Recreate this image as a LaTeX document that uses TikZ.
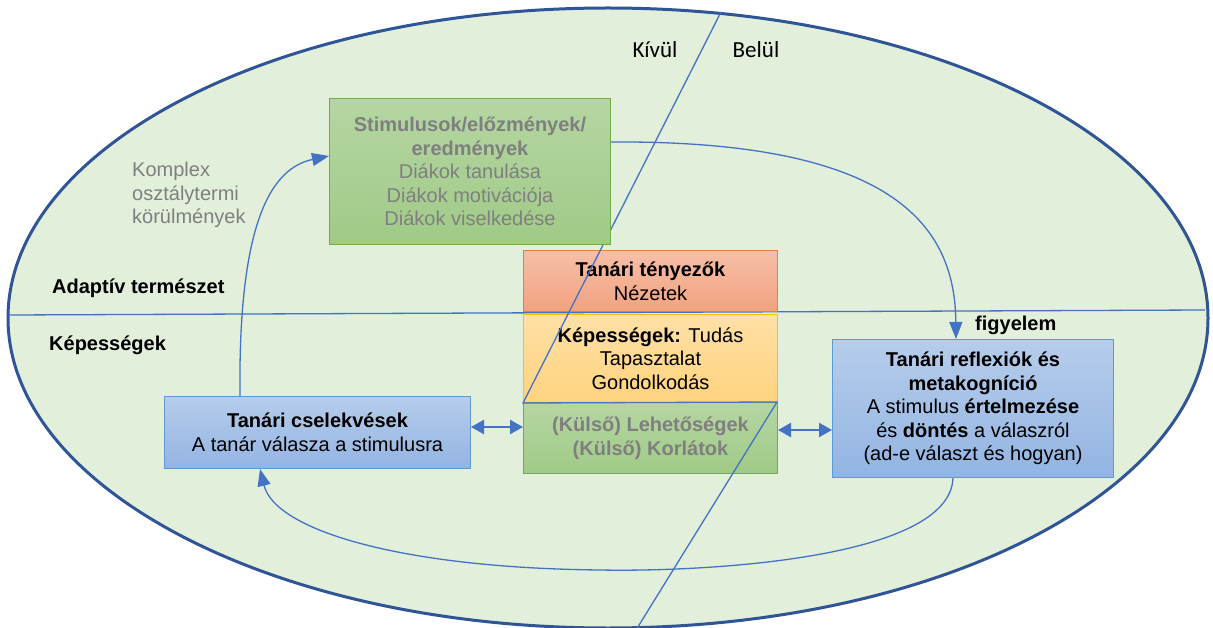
\documentclass[tikz,border=0pt]{standalone}
\usepackage{fontspec}
\setmainfont{Liberation Sans}
\newfontfamily\calibri{Carlito}
\usetikzlibrary{arrows.meta}

\definecolor{ellfill}{HTML}{E2EFDA}
\definecolor{ellline}{HTML}{2F5597}
\definecolor{accent}{HTML}{4472C4}
\definecolor{greytext}{HTML}{7F7F7F}
\definecolor{gtop}{HTML}{B5D6A3}
\definecolor{gbot}{HTML}{A0CA86}
\definecolor{gline}{HTML}{70AD47}
\definecolor{rtop}{HTML}{F6BFA8}
\definecolor{rbot}{HTML}{F2A27F}
\definecolor{rline}{HTML}{ED7D31}
\definecolor{ytop}{HTML}{FFE0A6}
\definecolor{ybot}{HTML}{FFD37E}
\definecolor{yline}{HTML}{FFC000}
\definecolor{btop}{HTML}{B6CDEB}
\definecolor{bbot}{HTML}{93B4E2}
\definecolor{bline}{HTML}{5B9BD5}

\tikzset{
  boxbase/.style={draw, line width=1pt, anchor=north west, align=center, inner sep=0pt},
  greenbox/.style={boxbase, draw=gline, top color=gtop, bottom color=gbot},
  redbox/.style={boxbase, draw=rline, top color=rtop, bottom color=rbot},
  yellowbox/.style={boxbase, draw=yline, top color=ytop, bottom color=ybot},
  bluebox/.style={boxbase, draw=bline, top color=btop, bottom color=bbot},
  divider/.style={draw=accent, line width=1.3pt},
  flow/.style={draw=accent, line width=1.3pt, -{Triangle[length=17pt, width=13pt]}},
  twoway/.style={draw=accent, line width=2.4pt, {Triangle[length=13pt, width=14pt]}-{Triangle[length=13pt, width=14pt]}},
  label/.style={inner sep=0pt, align=left}
}

\begin{document}
\begin{tikzpicture}[x=1pt, y=-1pt, every node/.style={font=\fontsize{20}{23.6}\selectfont}]
\useasboundingbox (0,0) rectangle (1213,628);

% outer field
\draw[fill=ellfill, draw=ellline, line width=3pt] (608,318) ellipse [x radius=600pt, y radius=310pt];

% horizontal split
\draw[divider] (10,315) -- (1205,310);

% central boxes
\node[redbox, minimum width=254pt, minimum height=61pt] (tenyezo) at (523,250)
  {\textbf{Tanári tényezők}\\Nézetek};

\node[yellowbox, minimum width=254pt, minimum height=88pt] (kepes) at (523,314)
  {\textbf{Képességek:} Tudás\\Tapasztalat\\Gondolkodás};

\node[greenbox, minimum width=254pt, minimum height=71pt, text=greytext] (kulso) at (523,402)
  {\textbf{(Külső) Lehetőségek}\\\textbf{(Külső) Korlátok}};

% inside / outside split, over the central boxes
\draw[divider] (721,12) -- (523,403) -- (777,402) -- (636,630);

% outer boxes
\node[greenbox, minimum width=281pt, minimum height=146pt, text=greytext] (stim) at (329,98)
  {\textbf{Stimulusok/előzmények/}\\\textbf{eredmények}\\Diákok tanulása\\Diákok motivációja\\Diákok viselkedése};

\node[bluebox, minimum width=306pt, minimum height=72pt] (csel) at (164,396)
  {\textbf{Tanári cselekvések}\\A tanár válasza a stimulusra};

\node[bluebox, minimum width=281pt, minimum height=138pt] (refl) at (832,339)
  {\textbf{Tanári reflexiók és}\\\textbf{metakogníció}\\A stimulus \textbf{értelmezése}\\és \textbf{döntés} a válaszról\\(ad-e választ és hogyan)};

% free labels
\node[label, anchor=west, text=greytext] (komplex) at (132,195) {Komplex\\osztálytermi\\körülmények};
\node[label, anchor=west, font=\fontsize{20}{23.6}\selectfont\bfseries] (adaptiv) at (52,288) {Adaptív természet};
\node[label, anchor=west, font=\fontsize{20}{23.6}\selectfont\bfseries] (kepesseg) at (49,345) {Képességek};
\node[label, anchor=west, font=\fontsize{20}{23.6}\selectfont\bfseries] (figyelem) at (975,325) {figyelem};
\node[label, font=\calibri\fontsize{23}{27}\selectfont] (kivul) at (655,50) {Kívül};
\node[label, font=\calibri\fontsize{23}{27}\selectfont] (belul) at (756,50) {Belül};

% flows
\draw[flow] ([xshift=76pt]csel.north west) .. controls (238,220) and (272,168) .. ([yshift=-58pt]stim.north west);
\draw[flow] ([yshift=-44pt]stim.north east) .. controls (900,140) and (955,230) .. ([xshift=124pt]refl.north west);
\draw[flow] ([xshift=121pt]refl.south west) .. controls (950,560) and (700,572) .. (600,570)
  .. controls (400,568) and (275,530) .. ([xshift=96pt]csel.south west);

\draw[twoway] ([yshift=-31pt]csel.north east) -- ([yshift=-25pt]kulso.north west);
\draw[twoway] ([yshift=-28pt]kulso.north east) -- ([yshift=-91pt]refl.north west);
\end{tikzpicture}
\end{document}
